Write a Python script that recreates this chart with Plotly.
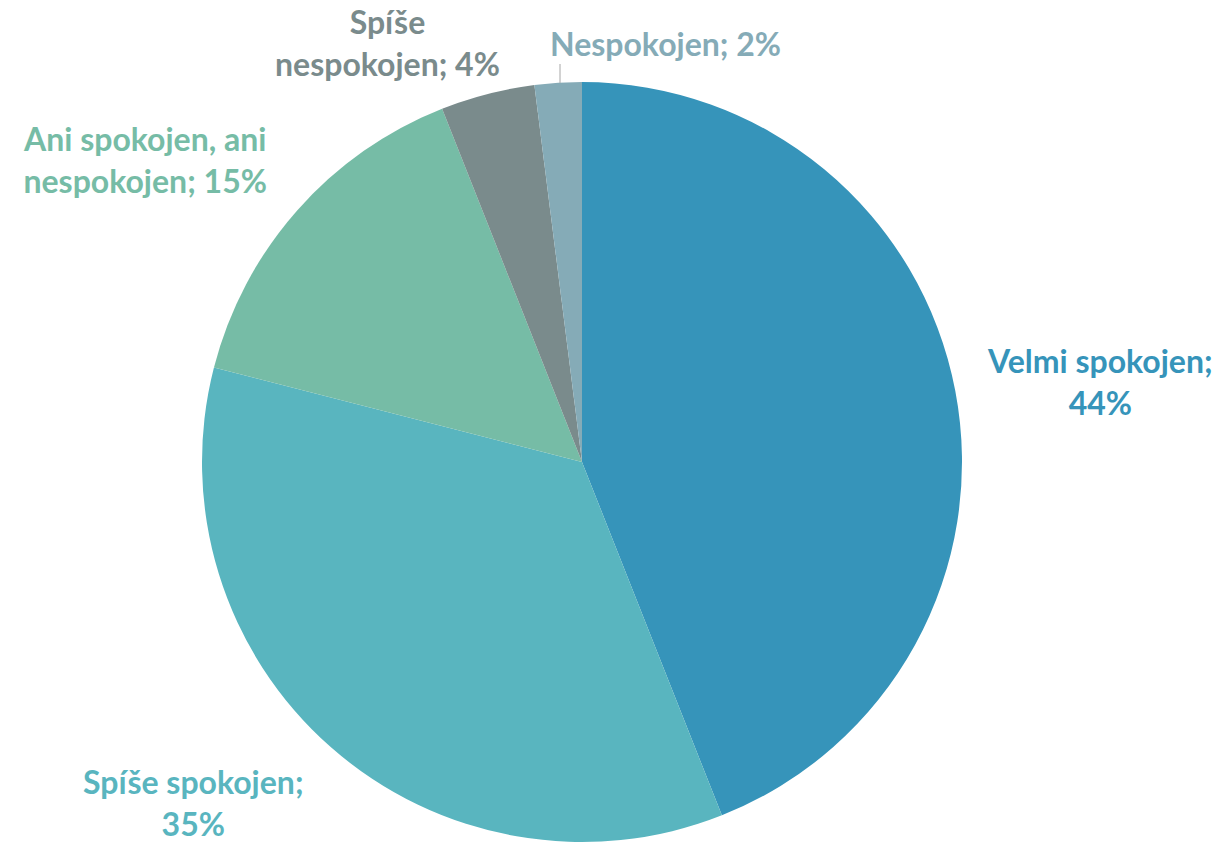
import plotly.graph_objects as go

labels = ["Velmi spokojen", "Spíše spokojen", "Ani spokojen, ani nespokojen",
          "Spíše nespokojen", "Nespokojen"]
values = [44, 35, 15, 4, 2]
colors = ["#3694BA", "#59B5BF", "#76BCA6", "#7A8B8C", "#85ABB7"]

W, H = 1225, 844

# label text with manual line breaks, as in the original
label_text = [
    "Velmi spokojen;<br>%d%%" % values[0],
    "Spíše spokojen;<br>%d%%" % values[1],
    "Ani spokojen, ani<br>nespokojen; %d%%" % values[2],
    "Spíše<br>nespokojen; %d%%" % values[3],
    "Nespokojen; %d%%" % values[4],
]
# label centres in pixels
label_pos = [(1100, 382), (193, 802), (145, 160), (387, 43), (665, 44)]

cx, cy, r = 582, 462, 380

fig = go.Figure(go.Pie(
    labels=labels,
    values=values,
    sort=False,
    direction="clockwise",
    rotation=0,
    marker=dict(colors=colors, line=dict(width=0)),
    textinfo="none",
    hoverinfo="label+percent",
    showlegend=False,
    domain=dict(x=[(cx - r) / W, (cx + r) / W],
                y=[(H - cy - r) / H, (H - cy + r) / H]),
))

for txt, (x, y), c in zip(label_text, label_pos, colors):
    fig.add_annotation(x=x / W, y=1 - y / H, xref="paper", yref="paper",
                       xanchor="center", yanchor="middle",
                       text=txt, showarrow=False, align="center",
                       font=dict(family="Lato", size=32, color=c, weight="bold"))

# leader line for the small slice
fig.add_shape(type="line", xref="paper", yref="paper",
              x0=560 / W, x1=560 / W, y0=1 - 83 / H, y1=1 - 64 / H,
              line=dict(color="#A6A6A6", width=1))

fig.update_layout(width=W, height=H, margin=dict(l=0, r=0, t=0, b=0),
                  paper_bgcolor="white", plot_bgcolor="white")

fig.write_html("out.html", config={"displayModeBar": False},
               post_script="document.body.style.margin='0';")
